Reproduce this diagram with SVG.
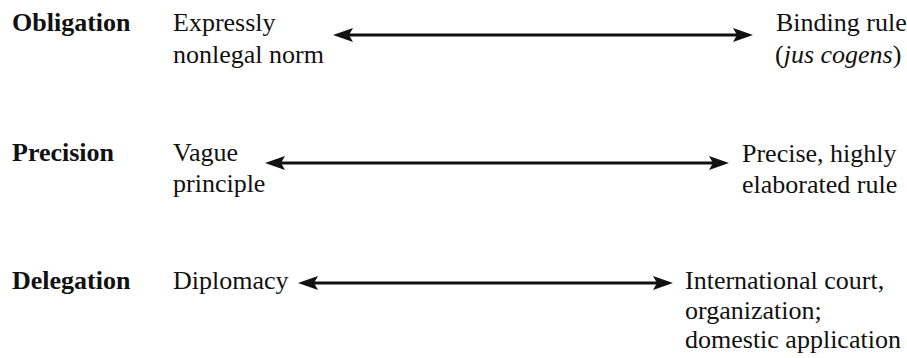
<svg xmlns="http://www.w3.org/2000/svg" width="907" height="358" viewBox="0 0 907 358" font-family="Liberation Serif, DejaVu Serif, serif">
  <style>
    text { font-size: 26px; fill: #111; }
    .dim { font-weight: bold; }
    .conn { stroke: #111; stroke-width: 3; fill: none; }
  </style>
  <defs>
    <marker id="head" markerUnits="userSpaceOnUse" markerWidth="20" markerHeight="14" refX="9" refY="7" orient="auto-start-reverse">
      <path d="M0,0 L20,7 L0,14 L4,7 z" fill="#111"/>
    </marker>
  </defs>

  <!-- Row 1: obligation -->
  <g id="obligation">
    <text class="dim" x="12" y="31">Obligation</text>
  </g>
  <g id="obligation-low">
    <text x="173" y="31">Expressly</text>
    <text x="173" y="63">nonlegal norm</text>
  </g>
  <g id="obligation-high">
    <text x="776" y="31">Binding rule</text>
    <text x="775" y="63">(<tspan font-style="italic">jus cogens</tspan>)</text>
  </g>

  <!-- Row 2: precision -->
  <g id="precision">
    <text class="dim" x="12" y="161">Precision</text>
  </g>
  <g id="precision-low">
    <text x="173" y="161">Vague</text>
    <text x="173" y="192">principle</text>
  </g>
  <g id="precision-high">
    <text x="742" y="162">Precise, highly</text>
    <text x="742" y="193">elaborated rule</text>
  </g>

  <!-- Row 3: delegation -->
  <g id="delegation">
    <text class="dim" x="12" y="289">Delegation</text>
  </g>
  <g id="delegation-low">
    <text x="173" y="289">Diplomacy</text>
  </g>
  <g id="delegation-high">
    <text x="685" y="289">International court,</text>
    <text x="685" y="319">organization;</text>
    <text x="685" y="348">domestic application</text>
  </g>

  <!-- Double-headed continuum arrows -->
  <g id="connectors">
    <line class="conn" x1="344" y1="35" x2="742" y2="35" marker-start="url(#head)" marker-end="url(#head)"/>
    <line class="conn" x1="276" y1="163" x2="718" y2="163" marker-start="url(#head)" marker-end="url(#head)"/>
    <line class="conn" x1="309" y1="283" x2="662" y2="283" marker-start="url(#head)" marker-end="url(#head)"/>
  </g>
</svg>
